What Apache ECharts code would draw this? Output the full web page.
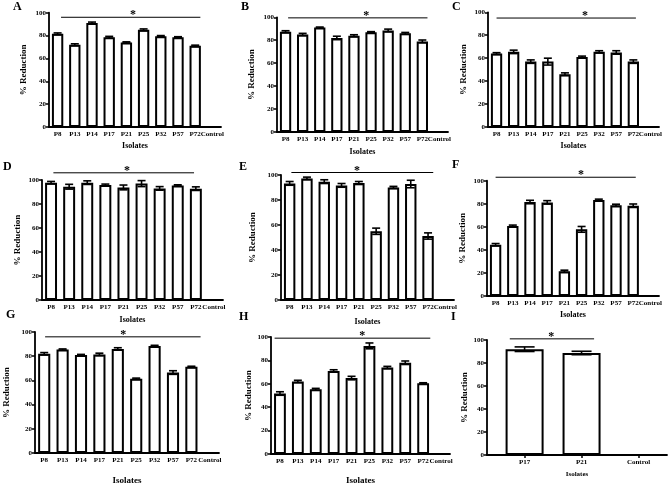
<!DOCTYPE html>
<html>
<head>
<meta charset="utf-8">
<script src="https://cdn.jsdelivr.net/npm/echarts@6/dist/echarts.min.js"></script>
<style>
  html, body { margin: 0; padding: 0; background: #fff; }
  #main { width: 669px; height: 486px; }
</style>
</head>
<body>
<div id="main"></div>
<script>
// isolates on the x axis
var isolates = ['P8', 'P13', 'P14', 'P17', 'P21', 'P25', 'P32', 'P57', 'P72', 'Control'];
var isolatesI = ['P17', 'P21', 'Control'];

// % reduction (mean) and error per panel
var valuesA = [81.5, 72, 91, 78.5, 74, 85, 79.5, 78.5, 71, 0];
var errorsA = [0.8, 0.8, 0.8, 0.8, 0.5, 0.8, 0.5, 0.5, 0.6, 0];
var valuesB = [87.5, 85, 91, 82, 84, 87, 88.5, 86, 79, 0];
var errorsB = [0.8, 1, 0.5, 1.5, 0.8, 0.5, 1.2, 0.8, 1.2, 0];
var valuesC = [64, 65.5, 57, 57, 46, 61, 65.5, 65, 57, 0];
var errorsC = [0.8, 1.5, 1.5, 3, 1.2, 0.8, 1, 1.5, 1.5, 0];
var valuesD = [97.8, 94.4, 97.8, 95.8, 93.8, 97, 93, 95.5, 92.8, 0];
var errorsD = [1, 2, 1.5, 0.8, 2, 2.5, 1.5, 0.5, 1.5, 0];
var valuesE = [93.3, 97.3, 94.7, 91.7, 93.6, 55, 90.1, 92.8, 51.2, 0];
var errorsE = [1.5, 1, 1.5, 1.5, 1.2, 2.5, 0.8, 3, 2.5, 0];
var valuesF = [44.5, 60.7, 81.5, 81.2, 21.4, 57.8, 83.2, 78.6, 78.3, 0];
var errorsF = [1, 0.8, 1.5, 1.5, 1, 2.5, 0.8, 1, 1.5, 0];
var valuesG = [82, 85.5, 81, 81.5, 86, 61.4, 88.5, 66.5, 71.2, 0];
var errorsG = [1, 0.5, 0.5, 1, 1, 0.5, 0.5, 1.5, 0.5, 0];
var valuesH = [51.7, 62, 55.3, 71, 64.9, 92.4, 73.9, 78, 60.4, 0];
var errorsH = [1.5, 1, 0.8, 1, 1.5, 2.5, 1, 1.5, 0.5, 0];
var valuesI = [92, 88.7, 0];
var errorsI = [2, 1.5, 0];

// significance bar: level (% reduction), span and star position in axis units
var sigLevel = [96, 99.5, 95, 106, 102, 103, 96, 99, 101];
var sigSpan = [[0.2, 8.3], [0.15, 8.3], [0, 8.15], [0.13, 7.9], [0.1, 8.3], [0, 8.15], [0.05, 8.5], [-0.3, 8.4], [0.74, 2.22]];
var sigStar = [4.38, 4.72, 5.17, 4.2, 3.9, 4.96, 4.3, 4.6, 1.47];

var panels = [
  { letter: 'A', values: valuesA, errors: errorsA },
  { letter: 'B', values: valuesB, errors: errorsB },
  { letter: 'C', values: valuesC, errors: errorsC },
  { letter: 'D', values: valuesD, errors: errorsD },
  { letter: 'E', values: valuesE, errors: errorsE },
  { letter: 'F', values: valuesF, errors: errorsF },
  { letter: 'G', values: valuesG, errors: errorsG },
  { letter: 'H', values: valuesH, errors: errorsH },
  { letter: 'I', values: valuesI, errors: errorsI }
];

// layout of each panel (pixels)
var boxes = [
  { left: 49, top: 12.7, width: 172, height: 114.3, yGap: 21, xGap: 15, xName: 8, lx: 13, ly: 1 },
  { left: 277, top: 17.3, width: 171, height: 114.7, yGap: 21, xGap: 16, xName: 8, lx: 241, ly: 1 },
  { left: 488, top: 12.3, width: 171, height: 114.7, yGap: 20, xGap: 15, xName: 8, lx: 452, ly: 1 },
  { left: 42, top: 180, width: 181, height: 120, yGap: 20, xGap: 16, xName: 8, lx: 3, ly: 161 },
  { left: 281, top: 175, width: 173, height: 125, yGap: 24, xGap: 18, xName: 8, lx: 239, ly: 161 },
  { left: 487, top: 180.7, width: 172, height: 115.3, yGap: 20, xGap: 15, xName: 8, lx: 452, ly: 159 },
  { left: 35, top: 332, width: 184, height: 122, yGap: 24, xGap: 23, xName: 9, lx: 6, ly: 309 },
  { left: 271, top: 337, width: 179, height: 118, yGap: 16, xGap: 22, xName: 9, lx: 239, ly: 311 },
  { left: 487, top: 340, width: 180, height: 115, yGap: 9, xGap: 16, xName: 7, lx: 451, ly: 311 }
];

var font = 'Liberation Serif';
var black = '#000';

function txt(size) {
  return { fontFamily: font, fontWeight: 'bold', fontSize: size, color: black };
}

var chart = echarts.init(document.getElementById('main'));

var grids = [], xAxes = [], yAxes = [], series = [], titles = [];

panels.forEach(function (p, i) {
  var b = boxes[i];
  var isI = p.letter === 'I';
  grids.push({ left: b.left, top: b.top, width: b.width, height: b.height });
  titles.push({ text: p.letter, left: b.lx, top: b.ly, padding: 0, textStyle: txt(12) });

  var xAxis = {
    gridIndex: i,
    name: 'Isolates',
    nameLocation: 'middle',
    nameGap: b.xGap,
    nameTextStyle: txt(b.xName),
    axisLine: { lineStyle: { color: black, width: 1.8 } },
    axisTick: { length: 3, lineStyle: { color: black, width: 1.5 } },
    axisLabel: Object.assign({ interval: 0, margin: 4 }, txt(7)),
    splitLine: { show: false }
  };
  if (isI) {
    xAxis.type = 'value';
    xAxis.min = 0.34;
    xAxis.max = 3.5;
    xAxis.axisTick.customValues = [1, 2, 3];
    xAxis.axisLabel.customValues = [1, 2, 3];
    xAxis.axisLabel.formatter = function (v) { return isolatesI[Math.round(v) - 1]; };
  } else {
    xAxis.type = 'category';
    xAxis.data = isolates;
    xAxis.axisTick.alignWithLabel = true;
  }
  xAxes.push(xAxis);

  yAxes.push({
    type: 'value',
    gridIndex: i,
    min: 0,
    max: 100,
    interval: 20,
    name: '% Reduction',
    nameLocation: 'middle',
    nameRotate: 90,
    nameGap: b.yGap,
    nameTextStyle: txt(9),
    axisLine: { show: true, lineStyle: { color: black, width: 1.8 } },
    axisTick: { show: true, length: 3, lineStyle: { color: black, width: 1.5 } },
    axisLabel: Object.assign({ margin: 3 }, txt(7)),
    splitLine: { show: false }
  });

  // control (0 %) has no visible bar
  var barData = p.values.map(function (v, k) {
    var item = { value: isI ? [k + 1, v] : v };
    if (v === 0) item.itemStyle = { borderWidth: 0 };
    return item;
  });
  series.push({
    type: 'bar',
    xAxisIndex: i,
    yAxisIndex: i,
    data: barData,
    barWidth: isI ? 38 : '66%',
    itemStyle: { color: '#fff', borderColor: black, borderWidth: 2 },
    silent: true
  });

  var capHalf = isI ? 10 : 4;
  series.push({
    type: 'custom',
    xAxisIndex: i,
    yAxisIndex: i,
    z: 3,
    silent: true,
    data: p.values.map(function (v, k) { return [isI ? k + 1 : k, v, p.errors[k]]; }),
    encode: { x: 0, y: 1 },
    renderItem: function (params, api) {
      var x = api.value(0), m = api.value(1), e = api.value(2);
      if (!e) return;
      var hi = api.coord([x, m + e]);
      var lo = api.coord([x, m - e]);
      var st = { stroke: black, lineWidth: 1.6 };
      return {
        type: 'group',
        children: [
          { type: 'line', shape: { x1: hi[0], y1: hi[1], x2: lo[0], y2: lo[1] }, style: st },
          { type: 'line', shape: { x1: hi[0] - capHalf, y1: hi[1], x2: hi[0] + capHalf, y2: hi[1] }, style: st },
          { type: 'line', shape: { x1: lo[0] - capHalf, y1: lo[1], x2: lo[0] + capHalf, y2: lo[1] }, style: st }
        ]
      };
    }
  });
});

chart.setOption({
  backgroundColor: '#fff',
  animation: false,
  title: titles,
  grid: grids,
  xAxis: xAxes,
  yAxis: yAxes,
  series: series
});

// significance bars placed through each panel's own scales
function px(i, u, level) {
  var p0 = chart.convertToPixel({ gridIndex: i }, [0, level]);
  var p1 = chart.convertToPixel({ gridIndex: i }, [1, level]);
  return [p0[0] + u * (p1[0] - p0[0]), p0[1]];
}

var graphics = [];
panels.forEach(function (p, i) {
  var a = px(i, sigSpan[i][0], sigLevel[i]);
  var b = px(i, sigSpan[i][1], sigLevel[i]);
  var s = px(i, sigStar[i], sigLevel[i]);
  graphics.push({
    type: 'line',
    shape: { x1: a[0], y1: a[1], x2: b[0], y2: b[1] },
    style: { stroke: black, lineWidth: 1 }
  });
  graphics.push({
    type: 'text',
    x: s[0],
    y: s[1] - 2,
    style: { text: '*', fill: black, font: 'bold 12px "Liberation Serif"', align: 'center', verticalAlign: 'middle' }
  });
});
chart.setOption({ graphic: graphics });
</script>
</body>
</html>
